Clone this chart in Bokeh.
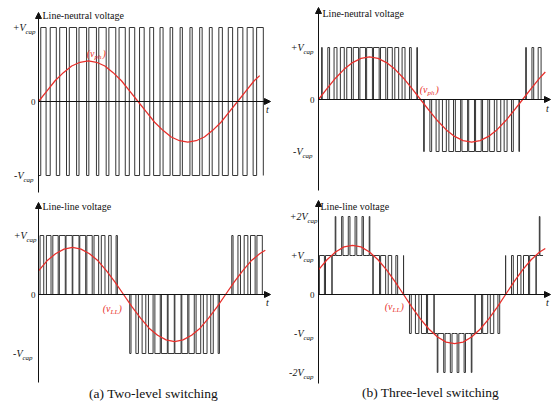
from bokeh.plotting import figure
from bokeh.models import Range1d, Arrow, NormalHead
from bokeh.layouts import column, row
from bokeh.embed import file_html
from bokeh.resources import INLINE
from bokeh.core.properties import value

# ---------------- data (angles in electrical degrees, voltages in V_cap) -------------
red_theta = [0, 15, 30, 45, 60, 75, 90, 105, 120, 135, 150, 165, 180, 195, 210, 225,
             240, 255, 270, 285, 300, 315, 330, 345, 360, 375, 390, 400]
red_a = [0, .14, .28, .39, .48, .53, .55, .53, .48, .39, .28, .14, 0, -.14, -.28, -.39,
         -.48, -.53, -.55, -.53, -.48, -.39, -.28, -.14, 0, .14, .28, .35]
red_b = [0, .21, .41, .58, .71, .79, .82, .79, .71, .58, .41, .21, 0, -.21, -.41, -.58,
         -.71, -.79, -.82, -.79, -.71, -.58, -.41, -.21, 0, .21, .41, .53]
red_c = [.40, .57, .69, .77, .80, .77, .69, .57, .40, .21, 0, -.21, -.40, -.57, -.69, -.77,
         -.80, -.77, -.69, -.57, -.40, -.21, 0, .21, .40, .57, .69, .75]
red_d = [.63, .89, 1.09, 1.22, 1.26, 1.22, 1.09, .89, .63, .33, 0, -.33, -.63, -.89, -1.09,
         -1.22, -1.26, -1.22, -1.09, -.89, -.63, -.33, 0, .33, .63, .89, 1.09, 1.18]

# carrier slot lengths (deg)
slot_a = 17.8
slot_bcd = 12.0
# (a) line-neutral, two-level: duty of the +V_cap part in each carrier slot
a_duty = [0.54, 0.62, 0.69, 0.74, 0.77, 0.77, 0.75, 0.70, 0.63, 0.55, 0.47, 0.39,
          0.31, 0.26, 0.23, 0.23, 0.25, 0.29, 0.36, 0.44, 0.52, 0.61, 0.68]
# (b) line-neutral, three-level: signed duty (pulse 0 -> +/-V_cap)
b_duty = [0.09, 0.26, 0.43, 0.57, 0.69, 0.78, 0.83, 0.85, 0.83, 0.78, 0.69, 0.57, 0.43,
          0.26, 0.09, -0.09, -0.26, -0.43, -0.57, -0.69, -0.78, -0.83, -0.85, -0.83,
          -0.78, -0.69, -0.57, -0.43, -0.26, -0.09, 0.09, 0.26, 0.43]
# (a) line-line, two-level: signed duty
c_duty = [0.54, 0.68, 0.79, 0.87, 0.91, 0.91, 0.87, 0.79, 0.68, 0.54, 0.37, 0.19, 0.0,
          -0.19, -0.37, -0.54, -0.68, -0.79, -0.87, -0.91, -0.91, -0.87, -0.79, -0.68,
          -0.54, -0.37, -0.19, 0.0, 0.19, 0.37, 0.54, 0.68, 0.79]
# (b) line-line, three-level: average level per carrier slot
d_level = [0.74, 0.94, 1.09, 1.20, 1.25, 1.25, 1.20, 1.09, 0.94, 0.74, 0.51, 0.26, 0.0,
           -0.26, -0.51, -0.74, -0.94, -1.09, -1.20, -1.25, -1.25, -1.20, -1.09, -0.94,
           -0.74, -0.51, -0.26, 0.0, 0.26, 0.51, 0.74, 0.94, 1.09]

titles = ["Line-neutral voltage", "Line-neutral voltage", "Line-line voltage", "Line-line voltage"]
captions = ["(a) Two-level switching", "(b) Three-level switching"]

SERIF = "'Liberation Serif', 'Times New Roman', serif"
WAVE = "#353535"
RED = "#e8302c"
INK = "#111111"


# ---------------- waveform builders ----------------
def two_level(duty, slot):
    xs, ys = [0], [-1]
    for k, d in enumerate(duty):
        c = slot * (k + 0.5)
        w = d * slot
        xs += [c - w / 2, c - w / 2, c + w / 2, c + w / 2]
        ys += [-1, 1, 1, -1]
    return xs, ys


def unipolar(duty, slot):
    xs, ys = [0], [0]
    for k, d in enumerate(duty):
        if d == 0:
            continue
        s = 1 if d > 0 else -1
        c = slot * (k + 0.5)
        w = abs(d) * slot
        xs += [c - w / 2, c - w / 2, c + w / 2, c + w / 2]
        ys += [0, s, s, 0]
    xs.append(slot * len(duty))
    ys.append(0)
    return xs, ys


def multilevel(levels, slot):
    xs, ys = [], []
    for k, v in enumerate(levels):
        s = 1 if v >= 0 else -1
        n = int(abs(v))
        base = s * n
        frac = abs(v) - n
        top = base + s
        x0 = k * slot
        c = x0 + slot / 2
        w = frac * slot
        xs += [x0, c - w / 2, c - w / 2, c + w / 2, c + w / 2, x0 + slot]
        ys += [base, base, top, top, base, base]
    return xs, ys


# ---------------- panel helper ----------------
class Panel:
    def __init__(self, w, h, x0, dpx, y0, upx):
        self.x0, self.dpx, self.y0, self.upx = x0, dpx, y0, upx
        p = figure(width=w, height=h,
                   x_range=Range1d(-x0 / dpx, (w - x0) / dpx),
                   y_range=Range1d(-(h - y0) / upx, y0 / upx),
                   x_axis_type=None, y_axis_type=None,
                   output_backend="svg", toolbar_location=None, min_border=0)
        p.grid.visible = False
        p.outline_line_color = None
        p.background_fill_color = "white"
        p.border_fill_color = "white"
        self.p = p

    def xd(self, px):
        return (px - self.x0) / self.dpx

    def yd(self, py):
        return (self.y0 - py) / self.upx

    def txt(self, x, y, s, size, align="left", style="normal", color=INK, dx=0, dy=0):
        self.p.text(x=[x], y=[y], text=[s], text_align=align, text_baseline="middle",
                    text_font=value(SERIF), text_font_style=style,
                    text_font_size=f"{size}px", text_color=color,
                    x_offset=dx, y_offset=dy)

    def axes(self, top_px, bot_px, right_px):
        head = dict(size=6, fill_color=INK, line_color=INK, line_width=1)
        self.p.add_layout(Arrow(end=NormalHead(**head), x_start=0, y_start=self.yd(bot_px),
                                x_end=0, y_end=self.yd(top_px), line_color=INK, line_width=1))
        self.p.add_layout(Arrow(end=NormalHead(**head), x_start=0, y_start=0,
                                x_end=self.xd(right_px), y_end=0, line_color=INK, line_width=1))

    def vlabel(self, anchor_px, y, main, sub, size=10):
        x = self.xd(anchor_px)
        self.txt(x, y, main, size, align="right", style="italic")
        self.txt(x, y, sub, size - 3, align="left", style="italic", dy=4)

    def redlabel(self, anchor_px, y_px, sub):
        x, y = self.xd(anchor_px), self.yd(y_px)
        self.txt(x, y, "(v", 10, align="right", style="italic", color=RED)
        self.txt(x, y, sub, 7, align="left", style="italic", color=RED, dy=3)
        self.txt(x, y, ")", 10, align="left", style="italic", color=RED, dx=8)


# ---------------- (a) line-neutral, two-level ----------------
A = Panel(280, 196, 38, 0.553, 101, 74)
xs, ys = two_level(a_duty, slot_a)
A.p.line(xs, ys, line_color=WAVE, line_width=1)
A.p.line(red_theta, red_a, line_color=RED, line_width=1.3)
A.axes(12, 192, 270)
A.vlabel(25, 1, "+V", "cap")
A.vlabel(23, -1, "-V", "cap")
A.txt(A.xd(35), 0, "0", 9, align="right")
A.txt(A.xd(42), A.yd(15), titles[0], 10)
A.txt(A.xd(267), A.yd(109), "t", 10, align="center", style="italic")
A.redlabel(94, 53, "ph")

# ---------------- (b) line-neutral, three-level ----------------
B = Panel(271, 196, 38, 0.567, 99, 52)
xs, ys = unipolar(b_duty, slot_bcd)
B.p.line(xs, ys, line_color=WAVE, line_width=1)
B.p.line(red_theta, red_b, line_color=RED, line_width=1.3)
B.axes(7, 190, 270)
B.vlabel(23, 1, "+V", "cap")
B.vlabel(22, -1, "-V", "cap")
B.txt(B.xd(34), 0, "0", 9, align="right")
B.txt(B.xd(42), B.yd(13), titles[1], 10)
B.txt(B.xd(267), B.yd(108), "t", 10, align="center", style="italic")
B.redlabel(147, 89, "ph")

# ---------------- (a) line-line, two-level ----------------
C = Panel(280, 207, 38, 0.567, 98, 59)
xs, ys = unipolar(c_duty, slot_bcd)
C.p.line(xs, ys, line_color=WAVE, line_width=1)
C.p.line(red_theta, red_c, line_color=RED, line_width=1.3)
C.axes(6, 186, 270)
C.vlabel(26, 1, "+V", "cap")
C.vlabel(22, -1, "-V", "cap")
C.txt(C.xd(35), 0, "0", 9, align="right")
C.txt(C.xd(42), C.yd(10), titles[2], 10)
C.txt(C.xd(267), C.yd(106), "t", 10, align="center", style="italic")
C.redlabel(110, 112, "LL")
C.txt(C.xd(153), C.yd(197), captions[0], 13.5, align="center")

# ---------------- (b) line-line, three-level ----------------
D = Panel(271, 207, 38, 0.567, 98, 39)
xs, ys = multilevel(d_level, slot_bcd)
D.p.line(xs, ys, line_color=WAVE, line_width=1)
D.p.line(red_theta, red_d, line_color=RED, line_width=1.3)
D.axes(4, 187, 270)
D.vlabel(27, 2, "+2V", "cap")
D.vlabel(23, 1, "+V", "cap")
D.vlabel(23, -1, "-V", "cap")
D.vlabel(23, -2, "-2V", "cap")
D.txt(D.xd(34), 0, "0", 9, align="right")
D.txt(D.xd(40), D.yd(10), titles[3], 10)
D.txt(D.xd(267), D.yd(106), "t", 10, align="center", style="italic")
D.redlabel(112, 110, "LL")
D.txt(D.xd(150), D.yd(196), captions[1], 13.5, align="center")

layout = column(row(A.p, B.p), row(C.p, D.p))
open("out.html", "w").write(file_html(layout, INLINE))
